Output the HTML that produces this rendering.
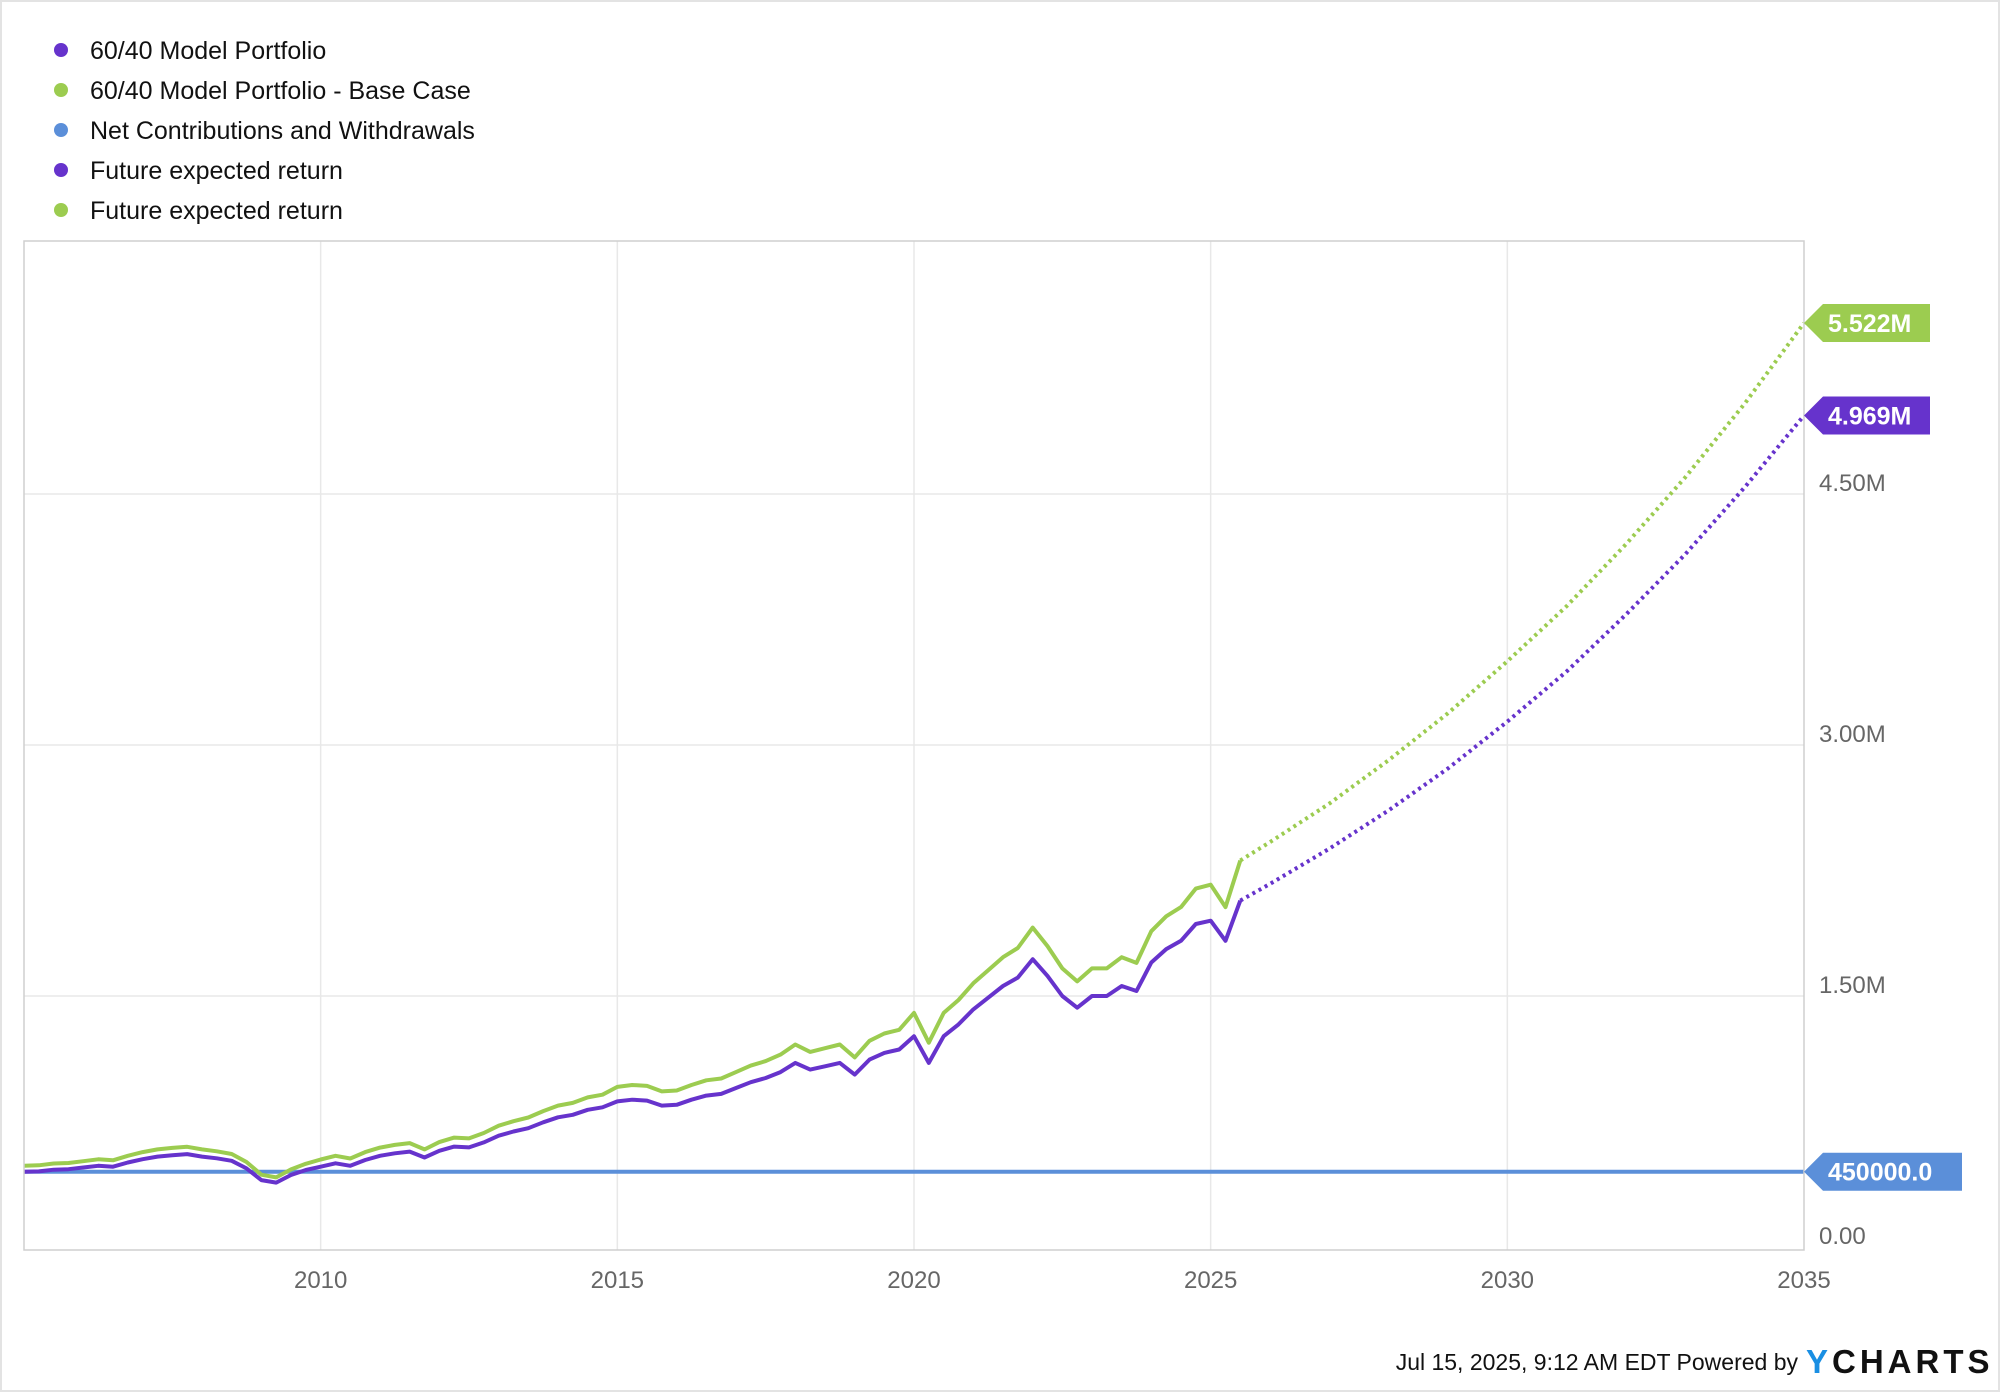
<!DOCTYPE html>
<html><head><meta charset="utf-8"><style>
html,body{margin:0;padding:0;background:#fff;}
svg{display:block;font-family:"Liberation Sans",sans-serif;}
</style></head><body>
<svg id="chart" width="2000" height="1392" viewBox="0 0 2000 1392">
<rect x="1" y="1" width="1998" height="1390" fill="#fff" stroke="#e3e3e3" stroke-width="2"/>
<g id="legend"></g>
<g id="grid"></g>
<g id="series"></g>
<rect x="24" y="241" width="1780" height="1009" fill="none" stroke="#cfcfcf" stroke-width="1.5"/>
<g id="axes"></g>
<g id="tags"></g>
<text x="1798" y="1370" text-anchor="end" font-size="23" fill="#111">Jul 15, 2025, 9:12 AM EDT Powered by</text>
<text x="1806" y="1373" font-size="33" font-weight="bold" fill="#111" letter-spacing="4"><tspan fill="#1a8fe3">Y</tspan>CHARTS</text>
</svg>
<script>
const histYears=[];for(let i=0;i<83;i++)histYears.push(2005+i*0.25);
const portfolio=[.450,.452,.462,.465,.475,.485,.480,.505,.525,.540,.548,.555,.540,.530,.515,.470,.400,.385,.430,.460,
.480,.500,.485,.520,.545,.560,.570,.535,.575,.600,.595,.625,.665,.690,.710,.745,.775,.790,.820,.835,
.870,.880,.875,.845,.850,.880,.905,.915,.950,.985,1.010,1.045,1.100,1.060,1.080,1.100,1.030,1.120,1.160,1.180,
1.260,1.100,1.260,1.330,1.420,1.490,1.560,1.610,1.720,1.620,1.500,1.430,1.500,1.500,1.560,1.530,1.700,1.780,1.830,1.930,1.950,1.830,2.070];
const baseCase=[.486,.488,.499,.502,.513,.524,.518,.545,.567,.583,.592,.599,.583,.572,.556,.508,.432,.416,.464,.497,
.523,.545,.529,.567,.594,.610,.621,.583,.627,.654,.649,.681,.725,.752,.774,.812,.845,.861,.894,.910,
.957,.968,.963,.930,.935,.968,.996,1.007,1.045,1.084,1.111,1.150,1.210,1.166,1.188,1.210,1.133,1.232,1.276,1.298,
1.399,1.221,1.399,1.476,1.576,1.654,1.732,1.787,1.909,1.798,1.665,1.587,1.665,1.665,1.732,1.698,1.887,1.976,2.031,2.142,2.165,2.031,2.310];
const projYears=[2025.5,2026,2027,2028,2029,2030,2031,2032,2033,2034,2035];
const projPortfolio=[2.070,2.17,2.38,2.61,2.86,3.14,3.44,3.78,4.14,4.54,4.969];
const projBase=[2.310,2.42,2.65,2.91,3.19,3.50,3.83,4.20,4.60,5.04,5.522];
const netContrib=[0.45,0.45];const netYears=[2005,2035];
const xTicks=[2010,2015,2020,2025,2030,2035];
const yTicks=[0,1.5,3,4.5];const yTickLabels=["0.00","1.50M","3.00M","4.50M"];
const legendLabels=["60/40 Model Portfolio","60/40 Model Portfolio - Base Case","Net Contributions and Withdrawals","Future expected return","Future expected return"];
const legendColors=["#6633cc","#9ccc50","#5b8fd9","#6633cc","#9ccc50"];

const NS="http://www.w3.org/2000/svg";
const X0=24,X1=1804;
const x=y=>X0+(y-2005)/30*(X1-X0);
const yS=v=>1247-v/1.5*251;
function mk(t,a,p){const e=document.createElementNS(NS,t);for(const k in a)e.setAttribute(k,a[k]);p.appendChild(e);return e;}
const lg=document.getElementById('legend');
legendLabels.forEach((l,i)=>{const cy=50+i*40;
 const c=mk('circle',{cx:61,cy:cy,r:7,fill:legendColors[i]},lg);
 
 
 const t=mk('text',{x:90,y:cy+9,'font-size':25,fill:'#111'},lg);t.textContent=l;
 
 
});
const g=document.getElementById('grid'),ax=document.getElementById('axes');
xTicks.forEach(v=>{if(v<2035){const l=mk('line',{x1:x(v),x2:x(v),y1:241,y2:1250,stroke:'#e8e8e8','stroke-width':1.5},g);
 
 }
 const t=mk('text',{x:x(v),y:1288,'text-anchor':'middle','font-size':24,fill:'#666'},ax);t.textContent=v;
 
 
});
yTicks.forEach((v,i)=>{if(v>0){const l=mk('line',{x1:24,x2:1804,y1:yS(v),y2:yS(v),stroke:'#e8e8e8','stroke-width':1.5},g);
 
 }
 const t=mk('text',{x:1819,y:yS(v)-3,'font-size':24,fill:'#666'},ax);t.textContent=yTickLabels[i];
 
 
});
const s=document.getElementById('series');
function path(xs,vs,col,dash,name){const d=xs.map((yv,i)=>(i?'L':'M')+x(yv).toFixed(1)+','+yS(vs[i]).toFixed(1)).join('');
 const p=mk('path',{d:d,fill:'none',stroke:col,'stroke-width':4,'stroke-linejoin':'round'},s);
 if(dash)p.setAttribute('stroke-dasharray','3 4');
 
 }
path(netYears,netContrib,'#5b8fd9',false,'net-contributions-line');
path(histYears,baseCase,'#9ccc50',false,'base-case-line');
path(histYears,portfolio,'#6633cc',false,'portfolio-line');
path(projYears,projBase,'#9ccc50',true,'base-case-projection');
path(projYears,projPortfolio,'#6633cc',true,'portfolio-projection');
const tg=document.getElementById('tags');
function tag(v,txt,col,w,name){const cy=yS(v);const xl=1804;
 const p=mk('polygon',{points:`${xl},${cy} ${xl+19},${cy-19} ${xl+w},${cy-19} ${xl+w},${cy+19} ${xl+19},${cy+19}`,fill:col},tg);
 
 
 const t=mk('text',{x:xl+24,y:cy+9,'font-size':25,'font-weight':'bold',fill:'#fff'},tg);t.textContent=txt;
 
 }
tag(projBase[projBase.length-1],'5.522M','#9ccc50',126,'base-case-tag');
tag(projPortfolio[projPortfolio.length-1],'4.969M','#6633cc',126,'portfolio-tag');
tag(netContrib[1],'450000.0','#5b8fd9',158,'net-contributions-tag');
</script>
</body></html>
